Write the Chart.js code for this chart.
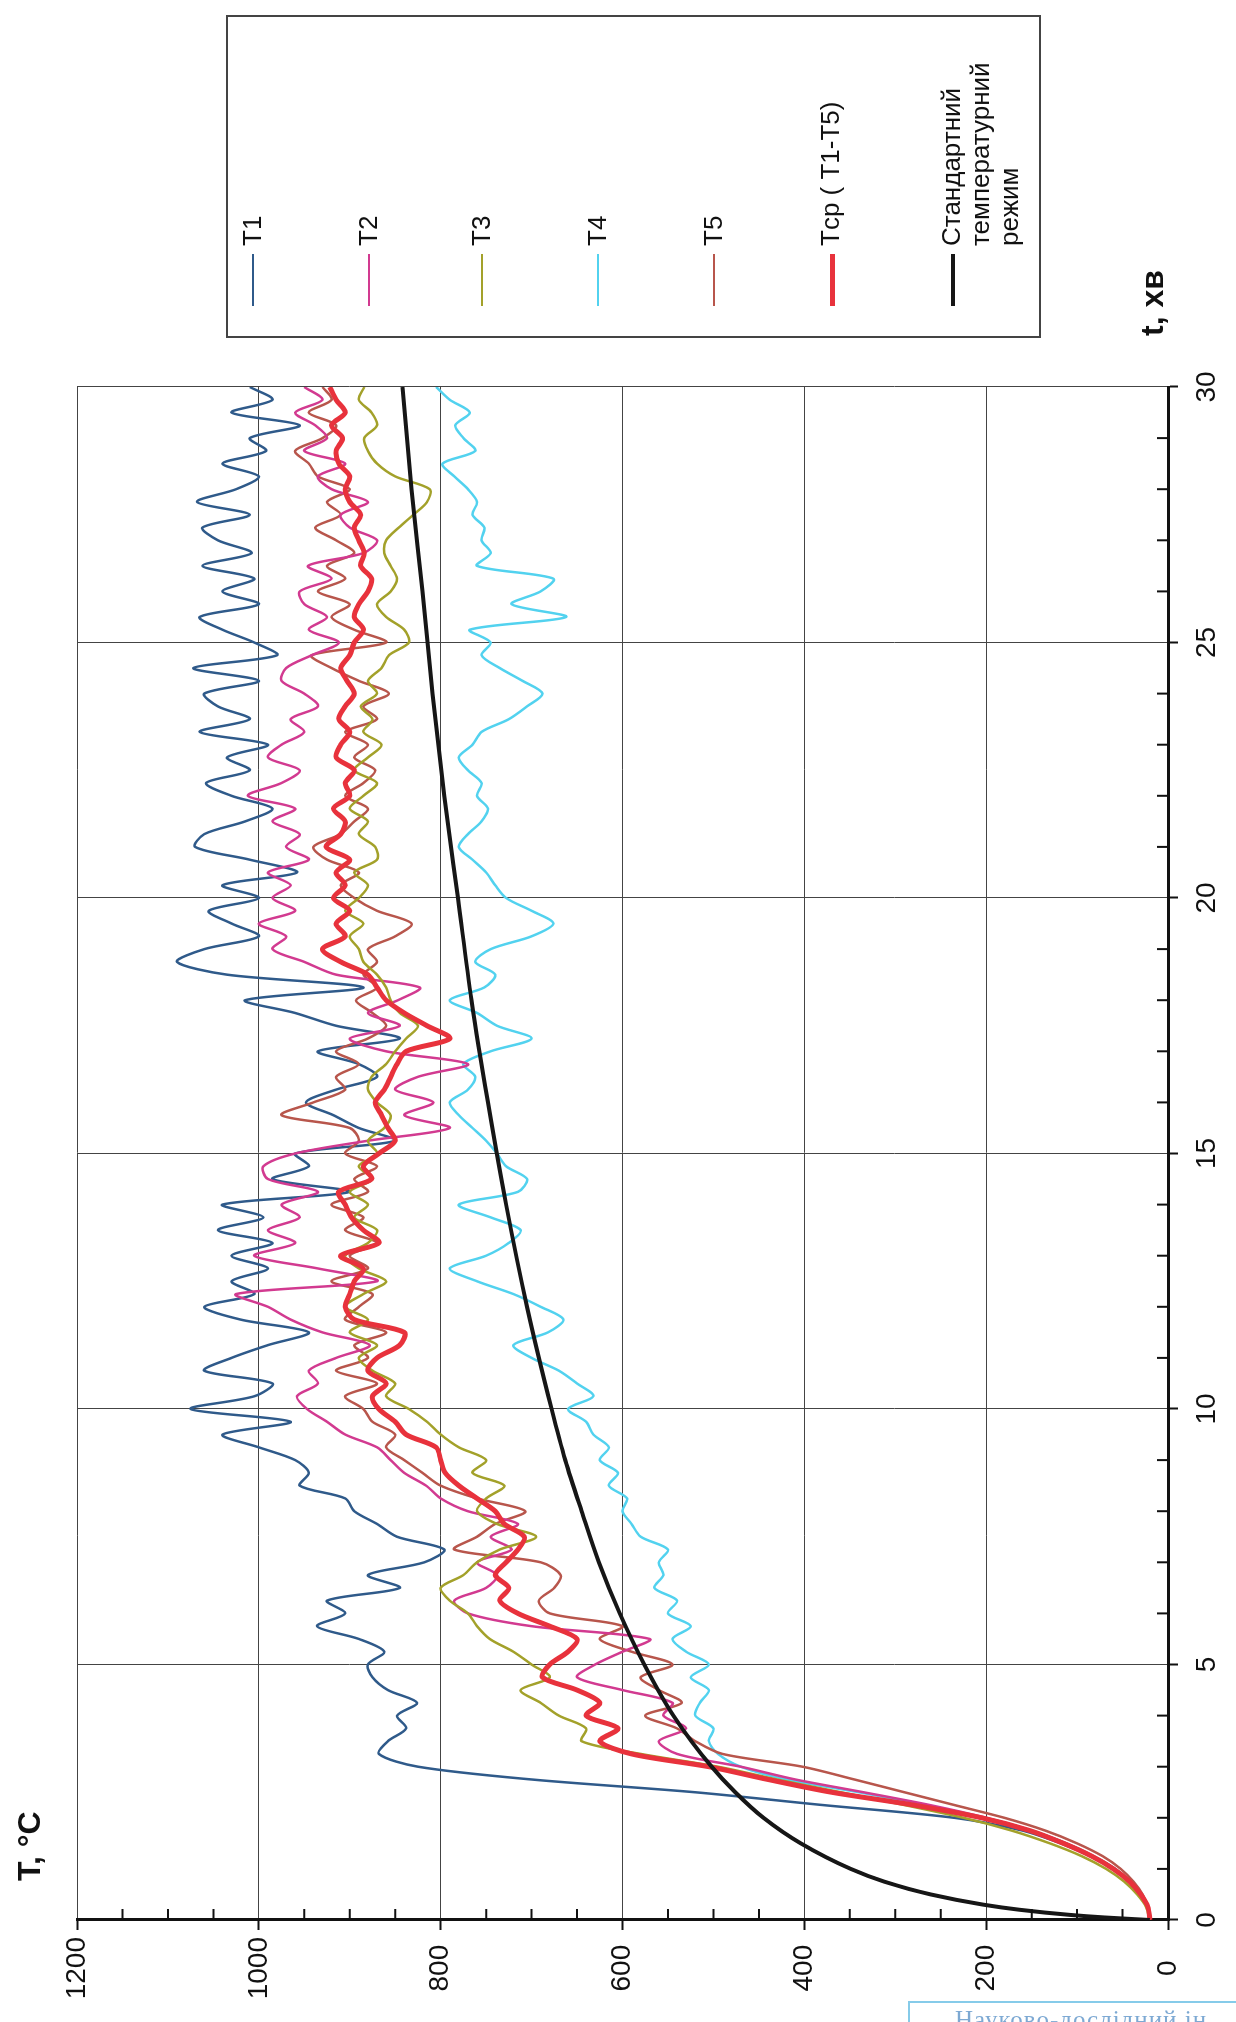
<!DOCTYPE html>
<html>
<head>
<meta charset="utf-8">
<script src="https://cdn.jsdelivr.net/npm/chart.js@4.4.1/dist/chart.umd.min.js"></script>
<style>
  html, body { margin: 0; padding: 0; background: #fff; width: 1236px; height: 2022px; overflow: hidden; }
  /* chart is laid out landscape, then turned a quarter to the left like the scanned page */
  #rot { position: absolute; left: 0; top: 0; width: 2022px; height: 1236px;
         transform-origin: 0 0; transform: translate(0, 2022px) rotate(-90deg); }
  #ch { position: absolute; left: 0; top: 0; }
  .ttl { position: absolute; font: bold 32px "Liberation Sans", Arial, sans-serif; color: #111; white-space: nowrap; line-height: 1; }
  #legend { position: absolute; left: 1684px; top: 226px; width: 323px; height: 815px;
            border: 2px solid #444; box-sizing: border-box; background: #fff; }
  .li { position: absolute; left: 30px; font: 26px "Liberation Sans", Arial, sans-serif; color: #111; line-height: 29px; }
  .li i { position: absolute; left: 0; width: 52px; top: 14px; }
  .li span { position: absolute; left: 60px; top: 0; white-space: nowrap; }
  .stamp { position: absolute; left: 908px; top: 2001px; width: 340px; height: 40px;
           border-top: 2px solid #86cbe9; border-left: 2px solid #86cbe9; }
  .stamp span { position: absolute; left: 45px; top: 3px; font: 25px "Liberation Serif", "DejaVu Serif", serif;
                color: #7da9d3; letter-spacing: 1px; white-space: nowrap; }
</style>
</head>
<body>
<div id="rot">
  <canvas id="ch" width="2022" height="1236"></canvas>
  <div class="ttl" style="left:141px; top:13px;">T, °C</div>
  <div class="ttl" style="left:1686px; top:1136px;">t, хв</div>
  <div id="legend"></div>
</div>
<div class="stamp"><span>Науково-дослідний ін</span></div>

<script>
// Температура в камері: T1–T5, середня Тср та стандартний температурний режим
const TIME = [
  0, 0.25, 0.5, 0.75, 1, 1.25, 1.5, 1.75, 2, 2.25, 2.5, 2.75, 3, 3.25, 3.5, 3.75, 4, 4.25, 4.5, 4.75, 5,
  5.25, 5.5, 5.75, 6, 6.25, 6.5, 6.75, 7, 7.25, 7.5, 7.75, 8, 8.25, 8.5, 8.75, 9, 9.25, 9.5, 9.75, 10,
  10.25, 10.5, 10.75, 11, 11.25, 11.5, 11.75, 12, 12.25, 12.5, 12.75, 13, 13.25, 13.5, 13.75, 14, 14.25, 14.5, 14.75, 15,
  15.25, 15.5, 15.75, 16, 16.25, 16.5, 16.75, 17, 17.25, 17.5, 17.75, 18, 18.25, 18.5, 18.75, 19, 19.25, 19.5, 19.75, 20,
  20.25, 20.5, 20.75, 21, 21.25, 21.5, 21.75, 22, 22.25, 22.5, 22.75, 23, 23.25, 23.5, 23.75, 24, 24.25, 24.5, 24.75, 25,
  25.25, 25.5, 25.75, 26, 26.25, 26.5, 26.75, 27, 27.25, 27.5, 27.75, 28, 28.25, 28.5, 28.75, 29, 29.25, 29.5, 29.75, 30
];

const T1 = [
  20, 22, 30, 42, 60, 85, 118, 160, 235, 380, 520, 700, 825, 868, 858, 838, 848, 826, 858, 875, 880,
  862, 890, 936, 905, 925, 845, 880, 818, 796, 848, 870, 895, 905, 955, 945, 960, 1000, 1040, 965, 1075,
  1005, 985, 1060, 1030, 990, 945, 1020, 1060, 1005, 1030, 990, 1030, 985, 1045, 995, 1040, 900, 985, 945, 960,
  850, 890, 918, 948, 915, 870, 890, 935, 845, 915, 960, 1015, 885, 1035, 1090, 1060, 1000, 1030, 1055, 1000,
  1040, 958, 1010, 1070, 1060, 1015, 985, 1030, 1058, 1010, 1035, 990, 1065, 1010, 1045, 1060, 1000, 1072, 980, 1005,
  1040, 1065, 1000, 1040, 1005, 1062, 1008, 1045, 1062, 1010, 1068, 1025, 1000, 1040, 992, 1010, 955, 1030, 985, 1010
];
const T2 = [
  20, 22, 30, 42, 58, 82, 112, 150, 200, 262, 335, 410, 470, 540, 560, 530, 555, 545, 600, 650, 630,
  600, 570, 700, 770, 785, 750, 738, 760, 722, 745, 715, 770, 800, 816, 840, 855, 870, 905, 925, 947,
  958, 935, 945, 915, 878, 930, 965, 990, 1025, 870, 935, 1005, 960, 990, 955, 975, 935, 990, 995, 960,
  880, 790, 840, 808, 850, 825, 770, 860, 900, 845, 880, 847, 823, 915, 950, 985, 970, 1000, 960, 985,
  965, 990, 945, 970, 955, 985, 960, 1012, 975, 955, 990, 975, 950, 965, 935, 950, 975, 970, 942, 912,
  945, 925, 950, 955, 920, 946, 885, 870, 900, 910, 880, 920, 935, 905, 950, 925, 938, 960, 930, 950
];
const T3 = [
  20, 24, 34, 48, 68, 95, 130, 172, 225, 290, 360, 430, 495, 580, 645, 640, 670, 690, 712, 680, 700,
  720, 746, 760, 770, 790, 800, 775, 760, 735, 695, 738, 760, 750, 730, 765, 750, 780, 800, 815, 835,
  860, 850, 875, 890, 870, 900, 880, 905, 885, 860, 890, 905, 880, 870, 895, 880, 900, 875, 890, 870,
  880, 862, 855, 870, 880, 876, 860, 850, 838, 825, 845, 855, 860, 870, 885, 890, 900, 885, 905, 890,
  880, 895, 870, 872, 890, 880, 900, 885, 870, 895, 880, 865, 885, 875, 888, 870, 880, 865, 857, 835,
  840, 860, 870, 855, 848, 855, 862, 860, 846, 830, 815, 812, 850, 870, 880, 884, 870, 876, 890, 884
];
const T4 = [
  20, 22, 30, 42, 58, 82, 112, 150, 205, 268, 340, 420, 470, 495, 505, 500, 520, 515, 505, 525, 505,
  530, 545, 525, 550, 540, 565, 555, 560, 550, 580, 590, 600, 595, 615, 605, 625, 615, 632, 640, 660,
  632, 650, 670, 700, 720, 682, 665, 690, 720, 760, 790, 750, 725, 712, 745, 780, 715, 705, 728, 738,
  750, 765, 780, 790, 770, 762, 775, 745, 700, 738, 760, 790, 752, 740, 762, 745, 700, 676, 700, 728,
  740, 750, 765, 780, 770, 755, 748, 760, 755, 770, 780, 765, 755, 725, 705, 688, 710, 735, 755, 745,
  768, 662, 722, 690, 676, 760, 745, 755, 752, 765, 760, 770, 785, 798, 762, 775, 784, 768, 790, 805
];
const T5 = [
  20, 22, 28, 38, 52, 72, 100, 135, 180, 235, 290, 345, 402, 490, 520, 540, 575, 535, 560, 580, 545,
  590, 625, 600, 680, 692, 675, 668, 690, 785, 760, 740, 707, 760, 800, 820, 840, 860, 850, 875, 885,
  905, 870, 915, 880, 895, 860, 905, 890, 875, 920, 880, 900, 870, 905, 885, 920, 880, 895, 870, 905,
  890, 900, 975, 940, 905, 915, 890, 915, 880, 860, 875, 893, 870, 885, 870, 880, 850, 832, 870, 895,
  910, 890, 925, 940, 910, 895, 880, 905, 885, 872, 895, 880, 905, 870, 885, 857, 890, 920, 942, 860,
  895, 920, 900, 935, 905, 925, 895, 915, 938, 910, 925, 900, 935, 945, 960, 930, 915, 945, 920, 930
];
const TCP = [
  20, 22, 30, 42, 60, 84, 115, 152, 205, 280, 370, 440, 505, 590, 625, 605, 640, 625, 650, 688, 680,
  660, 650, 680, 715, 735, 725, 740, 728, 715, 708, 730, 740, 760, 780, 795, 800, 805, 838, 850, 868,
  875, 860, 880, 870, 845, 840, 895, 905, 900, 895, 885, 910, 868, 885, 898, 905, 912, 876, 885, 868,
  850, 858, 865, 872, 862, 855, 848, 838, 790, 815, 840, 860, 870, 880, 910, 930, 905, 915, 900, 918,
  905, 915, 900, 926, 910, 905, 918, 900, 905, 895, 915, 910, 900, 912, 905, 895, 903, 910, 900, 895,
  885, 895, 890, 880, 876, 888, 884, 890, 895, 888, 900, 905, 900, 912, 915, 908, 920, 905, 915, 922
];

// стандартний режим: свої точки часу, частіше на початку
const STD_TIME = [0, 0.05, 0.1, 0.2, 0.3, 0.5, 0.75, 1, 1.5, 2, 2.5, 3, 4, 5, 6, 7, 8, 9, 10, 12, 14, 16, 18, 20, 22, 24, 26, 28, 30];
const STD_T    = [20, 70, 108, 163, 203, 261, 312, 349, 404, 445, 476, 502, 544, 576, 603, 626, 645, 663, 678, 705, 728, 748, 766, 781, 796, 809, 820, 832, 842];

const X_TICKS = [0, 5, 10, 15, 20, 25, 30];
const Y_TICKS = [0, 200, 400, 600, 800, 1000, 1200];

const NAMES  = ["T1", "T2", "T3", "T4", "T5", "Tср ( T1-T5)", "Стандартний<br>температурний<br>режим"];
const COLORS = ["#2f5a8a", "#d23a90", "#a3a12a", "#52d2ef", "#b8564c", "#e8323c", "#161616"];
const WIDTHS = [2.5, 2.5, 2.5, 2.5, 2.5, 5, 4];
const LEG_Y  = [252, 368, 481, 597, 713, 830, 951];

const FONT = { family: '"Liberation Sans", Arial, sans-serif', size: 28 };

function pts(xs, ys) { return xs.map((x, i) => ({ x: x, y: ys[i] })); }

const SERIES = [T1, T2, T3, T4, T5, TCP];
const ORDER = [6, 4, 3, 7, 5, 1];
const datasets = SERIES.map((s, i) => ({
  label: NAMES[i], data: pts(TIME, s), borderColor: COLORS[i], borderWidth: WIDTHS[i],
  tension: 0.3, order: ORDER[i]
}));
datasets.push({
  label: "std", data: pts(STD_TIME, STD_T), borderColor: COLORS[6], borderWidth: WIDTHS[6],
  cubicInterpolationMode: "monotone", order: 0
});

// дрібні штрихи на осях (1 хв та 50 °C), всередину поля
const minorTicks = {
  id: "minorTicks",
  afterDraw(chart) {
    const { ctx, chartArea: a, scales: { x, y } } = chart;
    ctx.save();
    ctx.strokeStyle = "#111";
    ctx.lineWidth = 2;
    ctx.beginPath();
    for (let v = 1; v < 30; v++) {
      if (v % 5 === 0) continue;
      const px = x.getPixelForValue(v);
      ctx.moveTo(px, a.bottom); ctx.lineTo(px, a.bottom - 11);
    }
    for (let v = 50; v < 1200; v += 50) {
      if (v % 200 === 0) continue;
      const py = y.getPixelForValue(v);
      ctx.moveTo(a.left, py); ctx.lineTo(a.left + 11, py);
    }
    ctx.stroke();
    ctx.restore();
  }
};

new Chart(document.getElementById("ch"), {
  type: "line",
  data: { datasets: datasets },
  options: {
    responsive: false,
    animation: false,
    layout: { padding: { left: 0, top: 77, right: 387, bottom: 0 } },
    elements: { point: { radius: 0 } },
    plugins: { legend: { display: false }, tooltip: { enabled: false } },
    scales: {
      x: {
        type: "linear", min: 0, max: 30,
        afterBuildTicks: (s) => { s.ticks = X_TICKS.map((v) => ({ value: v })); },
        ticks: { font: FONT, color: "#111", padding: 12, maxRotation: 0, callback: (v) => String(v) },
        grid: { color: "#444", lineWidth: 1, tickLength: 10, tickColor: "#111", tickWidth: 2 },
        border: { color: "#111", width: 3 },
        afterFit: (s) => { s.height = 68; }
      },
      y: {
        type: "linear", min: 0, max: 1200,
        afterBuildTicks: (s) => { s.ticks = Y_TICKS.map((v) => ({ value: v })); },
        ticks: { font: FONT, color: "#111", padding: 7, crossAlign: "center", callback: (v) => String(v) },
        grid: { color: "#444", lineWidth: 1, tickLength: 10, tickColor: "#111", tickWidth: 2 },
        border: { color: "#111", width: 3 },
        afterFit: (s) => { s.width = 102; }
      }
    }
  },
  plugins: [minorTicks]
});

// легенда у рамці
document.getElementById("legend").innerHTML = NAMES.map((n, i) =>
  `<div class="li" style="top:${LEG_Y[i] - 226 - 16}px"><i style="border-top:${WIDTHS[i]}px solid ${COLORS[i]}"></i><span>${n}</span></div>`
).join("");
</script>
</body>
</html>
